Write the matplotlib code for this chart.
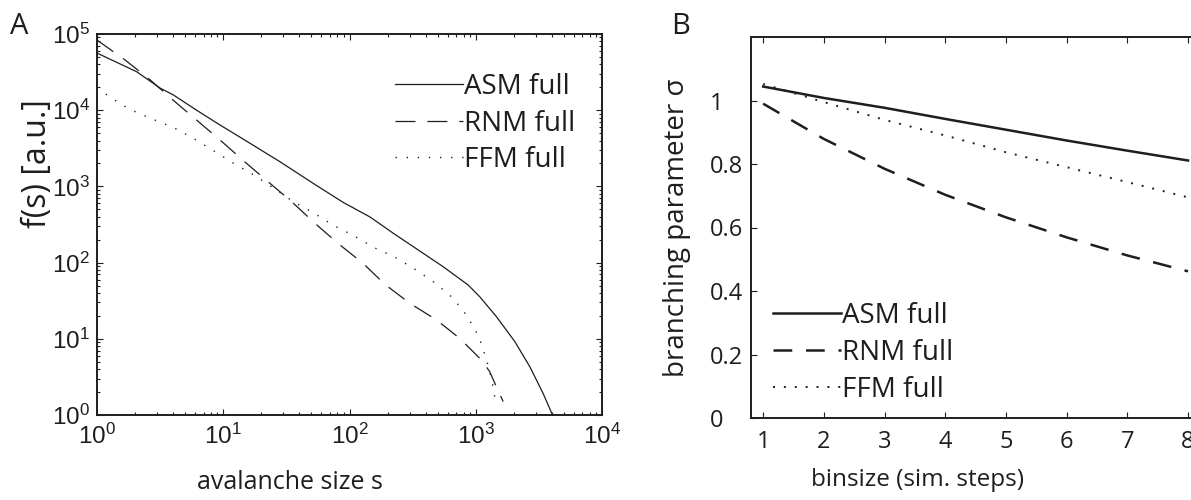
import matplotlib
matplotlib.use('Agg')
import matplotlib.pyplot as plt
from matplotlib.ticker import FixedLocator, FixedFormatter, LogLocator, NullFormatter

# ---------------- data: panel A (avalanche size distributions) ----------------
asm_s = [1, 2.06, 3.16, 4.03, 6.15, 9.42, 16.3, 28.1, 51.6, 89.1, 145, 222,
         552, 871, 1076, 1459, 2042, 2679, 3412, 4055]
asm_f = [56200, 32000, 19500, 15850, 10000, 6400, 3680, 2110, 1096, 617, 398, 243,
         88.3, 50.8, 35.6, 19.5, 9.16, 4.31, 1.93, 1.0]

rnm_s = [1, 1.667, 2.63, 4.02, 6.15, 9.42, 14.86, 22.7, 34.8, 53.2, 81.3, 128.2,
         190.5, 300.6, 488.7, 748.2, 1112, 1288, 1459, 1648]
rnm_f = [83200, 45700, 25100, 13490, 7413, 4074, 2089, 1148, 631, 328, 178, 97.7,
         51.9, 29.2, 17.7, 10.1, 5.25, 3.72, 2.34, 1.50]

ffm_s = [1, 1.268, 1.824, 2.679, 4.018, 5.861, 8.433, 12.16, 17.5, 25.18, 35.81, 51.64,
         74.3, 108.4, 157.0, 230.1, 331.1, 474.2, 654.6, 855.1, 1057, 1216, 1349, 1445]
ffm_f = [19950, 14790, 10230, 7762, 5957, 4227, 2917, 1995, 1413, 944, 631, 452,
         309, 225, 157, 117.5, 81.3, 54.4, 34.7, 19.95, 10.7, 5.37, 2.74, 1.39]

# ---------------- data: panel B (branching parameter vs binsize) ----------------
binsize = [1, 2, 3, 4, 5, 6, 7, 8]
sigma_asm = [1.044, 1.008, 0.977, 0.942, 0.908, 0.874, 0.842, 0.811]
sigma_rnm = [0.990, 0.879, 0.785, 0.703, 0.632, 0.569, 0.512, 0.462]
sigma_ffm = [1.052, 0.995, 0.939, 0.890, 0.837, 0.790, 0.743, 0.695]

labels = ['ASM full', 'RNM full', 'FFM full']
a_xticks = [1, 10, 100, 1000, 10000]
a_yticks = [1, 10, 100, 1000, 10000, 100000]
b_yticks = [0, 0.2, 0.4, 0.6, 0.8, 1.0]
b_yticklabels = ['0', '0.2', '0.4', '0.6', '0.8', '1']

LAB = 'Open Sans'
TICKA = 'Liberation Sans'
C = '#1e1e1e'

W, H = 1191, 500
fig = plt.figure(figsize=(W / 100, H / 100), dpi=100)

# ---------------- panel A ----------------
axA = fig.add_axes([97 / W, (H - 415) / H, 505 / W, 381 / H])
axA.set_xscale('log')
axA.set_yscale('log')
axA.plot(asm_s, asm_f, color=C, lw=0.9, label=labels[0])
axA.plot(rnm_s, rnm_f, color=C, lw=0.9, dashes=(16, 9.5), label=labels[1])
axA.plot(ffm_s, ffm_f, color=C, lw=1.0, dashes=(1, 7), label=labels[2])
axA.set_xlim(1, 1e4)
axA.set_ylim(1, 1e5)
axA.xaxis.set_major_locator(FixedLocator(a_xticks))
axA.yaxis.set_major_locator(FixedLocator(a_yticks))
axA.xaxis.set_major_formatter(FixedFormatter(
    [r'$\mathregular{10^{%d}}$' % i for i in range(len(a_xticks))]))
axA.yaxis.set_major_formatter(FixedFormatter(
    [r'$\mathregular{10^{%d}}$' % i for i in range(len(a_yticks))]))
axA.xaxis.set_minor_locator(LogLocator(base=10, subs=range(2, 10), numticks=20))
axA.yaxis.set_minor_locator(LogLocator(base=10, subs=range(2, 10), numticks=20))
axA.xaxis.set_minor_formatter(NullFormatter())
axA.yaxis.set_minor_formatter(NullFormatter())
axA.tick_params(which='both', direction='in', top=True, right=True, color=C, width=0.8)
axA.tick_params(which='major', length=4)
axA.tick_params(which='minor', length=2.2)
axA.tick_params(axis='x', which='major', pad=6, labelsize=17.5)
axA.tick_params(axis='y', which='major', pad=5, labelsize=17.5)
for lbl in axA.get_xticklabels() + axA.get_yticklabels():
    lbl.set_family(TICKA)
    lbl.set_color(C)
for sp in axA.spines.values():
    sp.set_linewidth(1.4)
    sp.set_color(C)
axA.set_ylabel('f(s) [a.u.]', fontsize=23, family=LAB, color=C, va='center')
axA.yaxis.set_label_coords(-0.118, 0.66)
axA.set_xlabel('avalanche size s', fontsize=18, family=LAB, color=C, va='center')
axA.xaxis.set_label_coords(0.382, -0.178)
legA = axA.legend(loc='center left', bbox_to_anchor=(0.59, 0.765), frameon=False,
                  prop={'family': LAB, 'size': 20}, handlelength=2.45,
                  handletextpad=0.05, labelspacing=0.3, borderpad=0, borderaxespad=0)
for t in legA.get_texts():
    t.set_color(C)

# ---------------- panel B ----------------
bx0, bx1 = 0.8, 8.2
px_per_unit = 60.7
axB = fig.add_axes([751 / W, (H - 418) / H, (bx1 - bx0) * px_per_unit / W, 381 / H])
axB.plot(binsize, sigma_asm, color=C, lw=1.8, label=labels[0])
axB.plot(binsize, sigma_rnm, color=C, lw=1.8, dashes=(7.5, 5.5), label=labels[1])
axB.plot(binsize, sigma_ffm, color=C, lw=1.4, dashes=(1, 4.6), label=labels[2])
axB.set_xlim(bx0, bx1)
axB.set_ylim(0, 1.2)
axB.set_xticks(binsize)
axB.set_yticks(b_yticks)
axB.set_yticklabels(b_yticklabels)
axB.tick_params(which='both', direction='in', top=True, right=True, color=C, width=0.8,
                length=4, labelsize=17, labelcolor=C)
axB.tick_params(axis='x', pad=9)
axB.tick_params(axis='y', pad=29.5)
for lbl in axB.get_xticklabels() + axB.get_yticklabels():
    lbl.set_family(LAB)
for lbl in axB.get_yticklabels():
    lbl.set_ha('left')
for sp in axB.spines.values():
    sp.set_linewidth(1.4)
    sp.set_color(C)
axB.set_ylabel('branching parameter σ', fontsize=20, family=LAB, color=C, va='center')
axB.yaxis.set_label_coords(-0.165, 0.5)
axB.set_xlabel('binsize (sim. steps)', fontsize=17.5, family=LAB, color=C, va='center')
axB.xaxis.set_label_coords(0.37, -0.163)
legB = axB.legend(loc='center left', bbox_to_anchor=(0.049, 0.171), frameon=False,
                  prop={'family': LAB, 'size': 20}, handlelength=2.45,
                  handletextpad=0.05, labelspacing=0.33, borderpad=0, borderaxespad=0)
for t in legB.get_texts():
    t.set_color(C)

fig.text(19 / W, 1 - 26 / H, 'A', fontsize=21, family=LAB, color=C, ha='center', va='center')
fig.text(681 / W, 1 - 26 / H, 'B', fontsize=21, family=LAB, color=C, ha='center', va='center')

fig.savefig('out.png', dpi=100)
